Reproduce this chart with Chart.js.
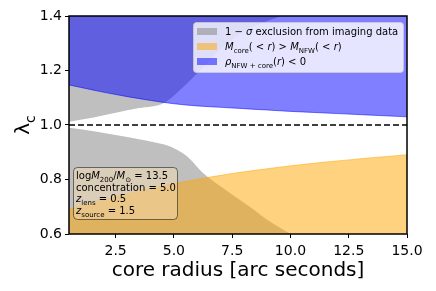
<!DOCTYPE html>
<html>
<head>
<meta charset="utf-8">
<script src="https://cdn.jsdelivr.net/npm/chart.js@4.4.1/dist/chart.umd.min.js"></script>
<style>
  html, body { margin: 0; padding: 0; background: #fff; }
  #wrap { width: 436px; height: 291px; }
</style>
</head>
<body>
<div id="wrap"><canvas id="lambdaChart" width="436" height="291"></canvas></div>
<script>
// core radius grid points and region boundaries
const greyUpperX = [0.5, 1.5, 2.5, 3.5, 4.6, 5.4, 6.1, 7.2, 8.3, 9.6]
const greyUpperY = [1.012, 1.027, 1.045, 1.062, 1.082, 1.139, 1.198, 1.294, 1.356, 1.40]

const greyLowerX = [0.5, 1.5, 2.5, 3.5, 4.5, 5.0, 5.6, 6.25, 7.0, 8.3, 9.0, 10.0]
const greyLowerY = [0.99, 0.978, 0.963, 0.948, 0.93, 0.915, 0.883, 0.824, 0.775, 0.697, 0.652, 0.60]

const orangeX = [0.5, 1.5, 2.5, 3.5, 4.5, 5.5, 6.5, 7.5, 8.5, 9.5, 10.5, 11.5, 12.5, 13.5, 14.5, 15.0]
const orangeY = [0.69, 0.715, 0.737, 0.757, 0.776, 0.793, 0.808, 0.822, 0.834, 0.845, 0.855, 0.864, 0.872, 0.88, 0.887, 0.891]

const blueX = [0.5, 1, 2, 3, 4, 5, 6, 7, 8, 9, 10, 11, 12, 13, 14, 15]
const blueY = [1.147, 1.138, 1.12, 1.104, 1.09, 1.078, 1.07, 1.065, 1.06, 1.055, 1.05, 1.046, 1.042, 1.038, 1.034, 1.030]

const xTicks = [2.5, 5.0, 7.5, 10.0, 12.5, 15.0]
const yTicks = [0.6, 0.8, 1.0, 1.2, 1.4]

const GREY = 'rgba(128,128,128,0.5)'
const ORANGE = 'rgba(255,165,0,0.5)'
const BLUE = 'rgba(0,0,255,0.5)'
const FONT = 'DejaVu Sans'

const toPts = (xs, ys) => xs.map((x, i) => ({ x: x, y: ys[i] }))

// draws a run of text pieces, some italic, some as subscripts
const drawRich = (ctx, segs, x, y, size) => {
    segs.forEach(seg => {
        const sz = seg.sub ? size * 0.7 : size
        ctx.font = (seg.it ? 'italic ' : '') + sz + 'px "' + FONT + '"'
        ctx.fillText(seg.t, x, y + (seg.sub ? size * 0.28 : 0))
        x += ctx.measureText(seg.t).width
    })
}

const roundRect = (ctx, x, y, w, h, r) => {
    ctx.beginPath()
    ctx.moveTo(x + r, y)
    ctx.arcTo(x + w, y, x + w, y + h, r)
    ctx.arcTo(x + w, y + h, x, y + h, r)
    ctx.arcTo(x, y + h, x, y, r)
    ctx.arcTo(x, y, x + w, y, r)
    ctx.closePath()
}

const legendRows = [
    { color: GREY, segs: [{ t: '1 − ' }, { t: 'σ', it: true }, { t: ' exclusion from imaging data' }] },
    { color: ORANGE, segs: [{ t: 'M', it: true }, { t: 'core', sub: true }, { t: '( < ' }, { t: 'r', it: true }, { t: ') > ' },
        { t: 'M', it: true }, { t: 'NFW', sub: true }, { t: '( < ' }, { t: 'r', it: true }, { t: ')' }] },
    { color: BLUE, segs: [{ t: 'ρ', it: true }, { t: 'NFW + core', sub: true }, { t: '(' }, { t: 'r', it: true }, { t: ') < 0' }] },
]

const infoRows = [
    [{ t: 'log' }, { t: 'M', it: true }, { t: '200', sub: true }, { t: '/' }, { t: 'M', it: true }, { t: '⊙', sub: true }, { t: ' = 13.5' }],
    [{ t: 'concentration = 5.0' }],
    [{ t: 'z', it: true }, { t: 'lens', sub: true }, { t: ' = 0.5' }],
    [{ t: 'z', it: true }, { t: 'source', sub: true }, { t: ' = 1.5' }],
]

const overlayPlugin = {
    id: 'overlay',
    afterDraw: (chart) => {
        const ctx = chart.ctx
        const a = chart.chartArea
        ctx.save()
        // frame
        ctx.strokeStyle = '#000'
        ctx.lineWidth = 1.5
        ctx.strokeRect(a.left, a.top, a.right - a.left, a.bottom - a.top)

        // legend
        roundRect(ctx, 193.5, 22.5, 210, 50, 3)
        ctx.fillStyle = 'rgba(255,255,255,0.8)'
        ctx.fill()
        ctx.strokeStyle = 'rgba(204,204,204,0.8)'
        ctx.lineWidth = 1
        ctx.stroke()
        ctx.textBaseline = 'alphabetic'
        legendRows.forEach((row, i) => {
            const cy = 31.5 + i * 15
            ctx.fillStyle = row.color
            ctx.fillRect(197, cy - 3.5, 20, 7)
            ctx.fillStyle = '#000'
            drawRich(ctx, row.segs, 225, cy + 3.5, 10)
        })

        // parameter box
        roundRect(ctx, 73.5, 167.5, 104, 52, 4)
        ctx.fillStyle = 'rgba(245,222,179,0.5)'
        ctx.fill()
        ctx.strokeStyle = 'rgba(0,0,0,0.5)'
        ctx.stroke()
        ctx.fillStyle = '#000'
        infoRows.forEach((segs, i) => {
            drawRich(ctx, segs, 76, 179 + i * 11.7, 10)
        })

        // y axis title with subscript
        ctx.translate(29, (a.top + a.bottom) / 2)
        ctx.rotate(-Math.PI / 2)
        ctx.font = '20px "' + FONT + '"'
        const w = ctx.measureText('λ').width
        ctx.font = '14px "' + FONT + '"'
        const wc = ctx.measureText('c').width
        drawRich(ctx, [{ t: 'λ' }, { t: 'c', sub: true }], -(w + wc) / 2, 0, 20)
        ctx.restore()
    }
}

const ctx = document.getElementById('lambdaChart')

new Chart(ctx, {
    type: 'line',
    data: {
        datasets: [
            {
                label: 'dashed',
                data: [{ x: 0.5, y: 1.0 }, { x: 15, y: 1.0 }],
                borderColor: '#000',
                borderWidth: 1.5,
                borderDash: [6, 3],
                fill: false,
                order: 0,
            },
            {
                label: 'blue',
                data: toPts(blueX, blueY),
                borderColor: BLUE,
                backgroundColor: BLUE,
                borderWidth: 1,
                fill: 'end',
                order: 1,
            },
            {
                label: 'orange',
                data: toPts(orangeX, orangeY),
                borderColor: ORANGE,
                backgroundColor: ORANGE,
                borderWidth: 1,
                fill: 'start',
                order: 2,
            },
            {
                label: 'grey upper',
                data: toPts(greyUpperX, greyUpperY),
                borderColor: 'rgba(128,128,128,0)',
                backgroundColor: GREY,
                borderWidth: 0,
                fill: 'end',
                order: 3,
            },
            {
                label: 'grey lower',
                data: toPts(greyLowerX, greyLowerY),
                borderColor: 'rgba(128,128,128,0)',
                backgroundColor: GREY,
                borderWidth: 0,
                fill: 'start',
                order: 4,
            },
        ]
    },
    options: {
        responsive: false,
        animation: false,
        events: [],
        layout: { padding: { top: 16, right: 29, left: 0, bottom: 0 } },
        elements: {
            point: { radius: 0 },
            line: { cubicInterpolationMode: 'monotone' },
        },
        plugins: {
            legend: { display: false },
            tooltip: { enabled: false },
        },
        scales: {
            x: {
                type: 'linear',
                min: 0.5,
                max: 15,
                afterBuildTicks: (scale) => { scale.ticks = xTicks.map(v => ({ value: v })) },
                afterFit: (scale) => { scale.height = 57 },
                grid: { drawOnChartArea: false, drawTicks: true, tickLength: 4, color: '#000', lineWidth: 1 },
                border: { display: false },
                ticks: {
                    color: '#000',
                    padding: 5,
                    maxRotation: 0,
                    font: { family: FONT, size: 14 },
                    callback: (v) => v.toFixed(1),
                },
                title: {
                    display: true,
                    text: 'core radius [arc seconds]',
                    color: '#000',
                    font: { family: FONT, size: 20 },
                    padding: { top: 0, bottom: 8 },
                },
            },
            y: {
                type: 'linear',
                min: 0.6,
                max: 1.4,
                afterBuildTicks: (scale) => { scale.ticks = yTicks.map(v => ({ value: v })) },
                afterFit: (scale) => { scale.width = 69 },
                grid: { drawOnChartArea: false, drawTicks: true, tickLength: 4, color: '#000', lineWidth: 1 },
                border: { display: false },
                ticks: {
                    color: '#000',
                    padding: 3,
                    font: { family: FONT, size: 14 },
                    callback: (v) => v.toFixed(1),
                },
            },
        },
    },
    plugins: [overlayPlugin],
})
</script>
</body>
</html>
